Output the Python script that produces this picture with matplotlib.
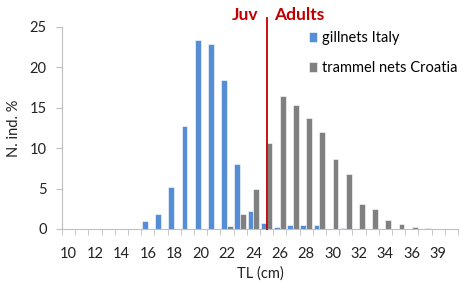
import numpy as np
import matplotlib.pyplot as plt

plt.rcParams['font.family'] = ['Lato', 'DejaVu Sans']

# size classes (TL, cm)
classes = ['10', '11', '12', '13', '14', '15', '16', '17', '18', '19', '20', '21', '22', '23', '24',
           '25', '26', '27', '28', '29', '30', '31', '32', '33', '34', '35', '36', '37', '39', '40']
tick_labels = ['10', '12', '14', '16', '18', '20', '22', '24', '26', '28', '30', '32', '34', '36', '39']

gillnets_italy = [0, 0, 0, 0, 0, 0, 1.0, 1.9, 5.2, 12.8, 23.4, 22.9, 18.5, 8.1, 2.2,
                  0.7, 0.3, 0.5, 0.5, 0.45, 0, 0.1, 0, 0, 0, 0, 0, 0, 0, 0]
trammel_croatia = [0, 0, 0, 0, 0, 0, 0, 0, 0, 0, 0, 0, 0.4, 1.9, 5.0,
                   10.6, 16.4, 15.3, 13.7, 12.0, 8.7, 6.8, 3.1, 2.5, 1.1, 0.6, 0.2, 0.1, 0, 0]

x = np.arange(len(classes))
w = 0.44

fig = plt.figure(figsize=(4.64, 2.84), dpi=100)
ax = fig.add_axes([0.1336, 0.1937, 0.8534, 0.7113])

ax.bar(x - w / 2, gillnets_italy, w, color='#558ED5', edgecolor='white', linewidth=0.4,
       label='gillnets Italy')
ax.bar(x + w / 2, trammel_croatia, w, color='#808080', edgecolor='white', linewidth=0.4,
       label='trammel nets Croatia')

# juvenile / adult split at 25 cm
split = classes.index('25')
ax.plot([split, split], [0, 26.1], color='#C00000', lw=1.3, clip_on=False, zorder=5)
ax.text(split - 0.65, 25.85, 'Juv', color='#C00000', fontweight='bold', fontsize=12.5,
        ha='right', va='baseline')
ax.text(split + 0.6, 25.85, 'Adults', color='#C00000', fontweight='bold', fontsize=12.5,
        ha='left', va='baseline')

ax.set_xlim(-0.5, len(classes) - 0.5)
ax.set_ylim(0, 25)
ax.set_yticks(range(0, 26, 5))
ax.tick_params(axis='y', labelsize=10.5, length=4, pad=7, color='#BFBFBF', labelcolor='#222222')

ax.set_xticks([classes.index(t) for t in tick_labels])
ax.set_xticklabels(tick_labels, fontsize=10.5, color='#222222')
ax.set_xticks(np.arange(len(classes) + 1) - 0.5, minor=True)
ax.tick_params(axis='x', which='major', length=0, pad=13)
ax.tick_params(axis='x', which='minor', length=4, color='#BFBFBF')

for s in ['top', 'right']:
    ax.spines[s].set_visible(False)
for s in ['left', 'bottom']:
    ax.spines[s].set_color('#BFBFBF')

ax.set_xlabel('TL (cm)', fontsize=10.5, color='#222222', labelpad=4)
ax.set_ylabel('N. ind. %', fontsize=10.5, color='#222222', labelpad=6)

ax.legend(loc='upper left', bbox_to_anchor=(0.59, 1.045), frameon=False, fontsize=10.5,
          handlelength=0.6, handleheight=0.6, handletextpad=0.3, labelspacing=1.1)

fig.savefig('out.png', dpi=100)
